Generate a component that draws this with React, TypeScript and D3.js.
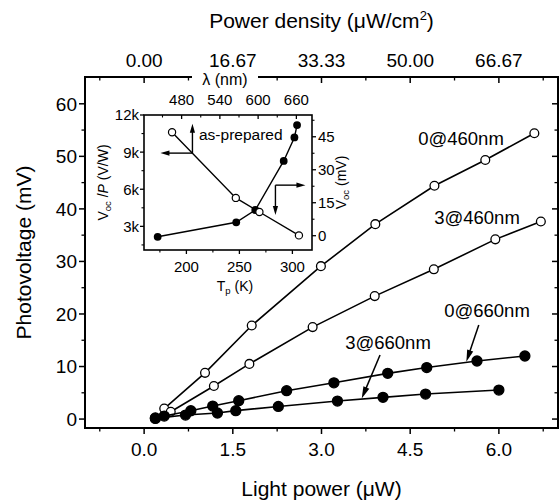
import React from 'react';
import * as d3 from 'd3';

// ---------- main chart data ----------
const powerTicks = [0, 1.5, 3.0, 4.5, 6.0];
const powerTickLabels = ['0.0', '1.5', '3.0', '4.5', '6.0'];
const powerMinorTicks = [-0.75, 0.75, 2.25, 3.75, 5.25, 6.75];
const densityTickLabels = ['0.00', '16.67', '33.33', '50.00', '66.67'];
const voltageTicks = [0, 10, 20, 30, 40, 50, 60];
const voltageMinorTicks = [5, 15, 25, 35, 45, 55];

const p0_460 = [0.34, 1.03, 1.82, 2.99, 3.91, 4.91, 5.77, 6.6];
const v0_460 = [2.0, 8.8, 17.8, 29.1, 37.1, 44.4, 49.3, 54.4];
const p3_460 = [0.45, 1.18, 1.78, 2.85, 3.9, 4.9, 5.94, 6.71];
const v3_460 = [1.4, 6.3, 10.5, 17.5, 23.4, 28.5, 34.2, 37.6];
const p0_660 = [0.19, 0.34, 0.79, 1.16, 1.6, 2.41, 3.21, 4.12, 4.78, 5.63, 6.44];
const v0_660 = [0.2, 0.57, 1.58, 2.48, 3.5, 5.4, 6.9, 8.7, 9.8, 11.05, 12.0];
const p3_660 = [0.19, 0.7, 1.24, 1.55, 2.27, 3.27, 4.04, 4.76, 6.0];
const v3_660 = [0.13, 0.76, 1.15, 1.6, 2.4, 3.43, 4.13, 4.76, 5.52];

// ---------- inset data ----------
const lambdaTicks = [480, 540, 600, 660];
const lambdaMinorTicks = [450, 510, 570, 630];
const tempTicks = [200, 250, 300];
const tempMinorTicks = [175, 225, 275];
const ratioTicks = [3000, 6000, 9000, 12000];
const ratioTickLabels = ['3k', '6k', '9k', '12k'];
const ratioMinorTicks = [1500, 4500, 7500, 10500];
const vocTicks = [0, 15, 30, 45];
const vocMinorTicks = [7.5, 22.5, 37.5, 52.5];

const asPrepLambda = [465, 565, 602, 664];
const asPrepRatio = [10600, 5300, 4160, 2270];
const tpTemp = [172.9, 247, 265, 291.8, 301.9, 304.4];
const tpVoc = [-0.5, 6.1, 11.7, 34, 44.7, 50.3];

const FONT = 'Liberation Sans, Arial, Helvetica, sans-serif';

function Arrow({ x1, y1, x2, y2, head = 12, w = 3.2, sw = 1.5 }: any) {
  const dx = x2 - x1, dy = y2 - y1;
  const L = Math.hypot(dx, dy);
  const ux = dx / L, uy = dy / L;
  const bx = x2 - ux * head, by = y2 - uy * head;
  const px = -uy, py = ux;
  return (
    <g>
      <line x1={x1} y1={y1} x2={bx + ux * 2} y2={by + uy * 2} stroke="#000" strokeWidth={sw} />
      <polygon points={`${x2},${y2} ${bx + px * w},${by + py * w} ${bx - px * w},${by - py * w}`} fill="#000" />
    </g>
  );
}

export default function App() {
  // main scales
  const x = d3.scaleLinear().domain([-1, 7]).range([85, 558]);
  const y = d3.scaleLinear().domain([-1.7, 65.1]).range([428, 77]);
  const line = d3.line<[number, number]>().x(d => x(d[0])).y(d => y(d[1]));

  // inset scales
  const xT = d3.scaleLinear().domain([160, 318.5]).range([144, 312]);
  const xL = d3.scaleLinear().domain([421, 684.5]).range([144, 312]);
  const yL = d3.scaleLinear().domain([1090, 12000]).range([250, 115]);
  const yR = d3.scaleLinear().domain([-6.5, 54.9]).range([250, 115]);

  const [L, R] = x.range();
  const [B, T] = y.range();
  const [iL, iR] = xT.range();
  const [iB, iT] = yL.range();

  const series = [
    { xs: p0_460, ys: v0_460, open: true },
    { xs: p3_460, ys: v3_460, open: true },
    { xs: p0_660, ys: v0_660, open: false },
    { xs: p3_660, ys: v3_660, open: false },
  ];

  const asPrepPts: [number, number][] = asPrepLambda.map((l, i) => [xL(l), yL(asPrepRatio[i])]);
  const tpPts: [number, number][] = tpTemp.map((t, i) => [xT(t), yR(tpVoc[i])]);
  const pix = d3.line<[number, number]>();

  return (
    <svg width={560} height={502} style={{ position: 'absolute', left: 0, top: 0, background: '#fff' }}
      fontFamily={FONT}>
      <rect x={0} y={0} width={560} height={502} fill="#fff" />

      {/* main series */}
      {series.map((s, si) => (
        <g key={si}>
          <path d={line(s.xs.map((v, i) => [v, s.ys[i]]) as [number, number][]) || ''} fill="none" stroke="#000" strokeWidth={1.6} />
          {s.xs.map((v, i) => (
            <circle key={i} cx={x(v)} cy={y(s.ys[i])} r={s.open ? 4.4 : 5}
              fill={s.open ? '#fff' : '#000'} stroke="#000" strokeWidth={1.3} />
          ))}
        </g>
      ))}

      {/* series labels and arrows */}
      <g fontSize={18.5} textAnchor="middle">
        <text x={461} y={145}>0@460nm</text>
        <text x={477} y={224}>3@460nm</text>
        <text x={487} y={317}>0@660nm</text>
        <text x={388} y={349}>3@660nm</text>
      </g>
      <Arrow x1={x(5.66)} y1={y(17.9)} x2={x(5.45)} y2={y(10.9)} />
      <Arrow x1={x(3.99)} y1={y(12.2)} x2={x(3.68)} y2={y(3.9)} />

      {/* main frame */}
      <rect x={L} y={T} width={R - L} height={B - T} fill="none" stroke="#000" strokeWidth={2} />

      {/* left axis */}
      {voltageTicks.map(v => (
        <g key={v}>
          <line x1={L - 6} x2={L} y1={y(v)} y2={y(v)} stroke="#000" strokeWidth={1.5} />
          <line x1={R - 6} x2={R} y1={y(v)} y2={y(v)} stroke="#000" strokeWidth={1.5} />
          <text x={L - 8} y={y(v)} dy="0.36em" textAnchor="end" fontSize={19}>{v}</text>
        </g>
      ))}
      {voltageMinorTicks.map(v => (
        <g key={v}>
          <line x1={L - 3.5} x2={L} y1={y(v)} y2={y(v)} stroke="#000" strokeWidth={1.3} />
          <line x1={R - 3.5} x2={R} y1={y(v)} y2={y(v)} stroke="#000" strokeWidth={1.3} />
        </g>
      ))}
      <text transform={`translate(31,${(T + B) / 2}) rotate(-90)`} textAnchor="middle" fontSize={21}>Photovoltage (mV)</text>

      {/* bottom & top axes */}
      {powerTicks.map((v, i) => (
        <g key={v}>
          <line x1={x(v)} x2={x(v)} y1={B} y2={B + 6} stroke="#000" strokeWidth={1.5} />
          <line x1={x(v)} x2={x(v)} y1={T} y2={T + 6} stroke="#000" strokeWidth={1.5} />
          <text x={x(v)} y={456} textAnchor="middle" fontSize={19}>{powerTickLabels[i]}</text>
          <text x={x(v)} y={67} textAnchor="middle" fontSize={19}>{densityTickLabels[i]}</text>
        </g>
      ))}
      {powerMinorTicks.map(v => (
        <g key={v}>
          <line x1={x(v)} x2={x(v)} y1={B} y2={B + 3.5} stroke="#000" strokeWidth={1.3} />
          <line x1={x(v)} x2={x(v)} y1={T} y2={T + 3.5} stroke="#000" strokeWidth={1.3} />
        </g>
      ))}
      <text x={(L + R) / 2} y={496} textAnchor="middle" fontSize={21}>Light power (μW)</text>
      <text x={(L + R) / 2} y={28} textAnchor="middle" fontSize={21}>
        Power density (μW/cm<tspan fontSize={13} dy={-8}>2</tspan><tspan dy={8}>)</tspan>
      </text>

      {/* ---------- inset ---------- */}
      <rect x={iL} y={iT} width={iR - iL} height={iB - iT} fill="#fff" />
      <path d={pix(asPrepPts) || ''} fill="none" stroke="#000" strokeWidth={1.4} />
      <path d={pix(tpPts) || ''} fill="none" stroke="#000" strokeWidth={1.4} />
      {tpPts.map((p, i) => <circle key={'f' + i} cx={p[0]} cy={p[1]} r={3.9} fill="#000" />)}
      {asPrepPts.map((p, i) => <circle key={'o' + i} cx={p[0]} cy={p[1]} r={3.6} fill="#fff" stroke="#000" strokeWidth={1.2} />)}

      {/* inset annotation arrows */}
      <Arrow x1={xT(205.7)} y1={yL(8920)} x2={xT(205.7)} y2={yL(11300)} head={9} w={2.6} sw={1.4} />
      <Arrow x1={xT(205.7)} y1={yL(8920)} x2={xT(175.5)} y2={yL(8920)} head={9} w={2.6} sw={1.4} />
      <Arrow x1={xT(284)} y1={yR(23)} x2={xT(312.3)} y2={yR(23)} head={9} w={2.6} sw={1.4} />
      <Arrow x1={xT(284)} y1={yR(23)} x2={xT(284)} y2={yR(9.4)} head={9} w={2.6} sw={1.4} />
      <text x={199} y={140} fontSize={15.5}>as-prepared</text>

      <rect x={iL} y={iT} width={iR - iL} height={iB - iT} fill="none" stroke="#000" strokeWidth={1.6} />

      {/* inset left axis */}
      {ratioTicks.map((v, i) => (
        <g key={v}>
          <line x1={iL - 4} x2={iL} y1={yL(v)} y2={yL(v)} stroke="#000" strokeWidth={1.3} />
          <text x={iL - 5} y={yL(v)} dy="0.36em" textAnchor="end" fontSize={15}>{ratioTickLabels[i]}</text>
        </g>
      ))}
      {ratioMinorTicks.map(v => (
        <line key={v} x1={iL - 2.5} x2={iL} y1={yL(v)} y2={yL(v)} stroke="#000" strokeWidth={1.1} />
      ))}
      <text transform={`translate(108,${(iT + iB) / 2}) rotate(-90)`} textAnchor="middle" fontSize={14}>
        V<tspan fontSize={9.5} dy={3}>oc</tspan><tspan dy={-3}> /</tspan><tspan fontStyle="italic">P</tspan> (V/W)
      </text>

      {/* inset right axis */}
      {vocTicks.map(v => (
        <g key={v}>
          <line x1={iR} x2={iR + 4} y1={yR(v)} y2={yR(v)} stroke="#000" strokeWidth={1.3} />
          <text x={iR + 6} y={yR(v)} dy="0.36em" textAnchor="start" fontSize={15}>{v}</text>
        </g>
      ))}
      {vocMinorTicks.map(v => (
        <line key={v} x1={iR} x2={iR + 2.5} y1={yR(v)} y2={yR(v)} stroke="#000" strokeWidth={1.1} />
      ))}
      <text transform={`translate(346,${(iT + iB) / 2}) rotate(-90)`} textAnchor="middle" fontSize={14}>
        V<tspan fontSize={9.5} dy={3}>oc</tspan><tspan dy={-3}> (mV)</tspan>
      </text>

      {/* inset bottom axis */}
      {tempTicks.map(v => (
        <g key={v}>
          <line x1={xT(v)} x2={xT(v)} y1={iB} y2={iB + 4} stroke="#000" strokeWidth={1.3} />
          <text x={xT(v)} y={272} textAnchor="middle" fontSize={15}>{v}</text>
        </g>
      ))}
      {tempMinorTicks.map(v => (
        <line key={v} x1={xT(v)} x2={xT(v)} y1={iB} y2={iB + 2.5} stroke="#000" strokeWidth={1.1} />
      ))}
      <text x={235} y={291} textAnchor="middle" fontSize={14}>
        T<tspan fontSize={9.5} dy={3}>p</tspan><tspan dy={-3}> (K)</tspan>
      </text>

      {/* inset top axis (wavelength) */}
      {lambdaTicks.map(v => (
        <g key={v}>
          <line x1={xL(v)} x2={xL(v)} y1={iT} y2={iT + 4} stroke="#000" strokeWidth={1.3} />
          <text x={xL(v)} y={105} textAnchor="middle" fontSize={15}>{v}</text>
        </g>
      ))}
      {lambdaMinorTicks.map(v => (
        <line key={v} x1={xL(v)} x2={xL(v)} y1={iT} y2={iT + 2.5} stroke="#000" strokeWidth={1.1} />
      ))}
      <rect x={192} y={70} width={66} height={16} fill="#fff" />
      <text x={225} y={85} textAnchor="middle" fontSize={16}>λ (nm)</text>
    </svg>
  );
}
